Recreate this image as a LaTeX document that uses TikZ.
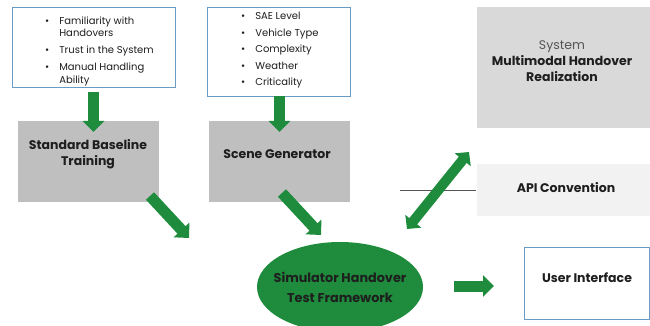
\documentclass[tikz,border=0pt]{standalone}
\usepackage{fontspec}
\setmainfont{Poppins}
\usetikzlibrary{arrows.meta,shapes.geometric}
\definecolor{grn}{HTML}{1E8C3C}
\definecolor{bord}{HTML}{6A9BC3}
\definecolor{txt}{HTML}{1E1E1E}
\definecolor{boxgray}{HTML}{BFBFBF}
\definecolor{sysgray}{HTML}{D9D9D9}
\definecolor{apigray}{HTML}{F2F2F2}
\definecolor{linegray}{HTML}{555555}
\begin{document}
\begin{tikzpicture}[x=1pt,y=-1pt,
  outlinebox/.style={draw=bord, line width=0.9pt, fill=white, inner sep=0, anchor=north west},
  fillbox/.style={draw=none, inner sep=0, anchor=north west},
  boldlabel/.style={font=\fontsize{12.5}{15.5}\selectfont\bfseries, text=txt, align=center, inner sep=0},
  listtext/.style={font=\fontsize{10}{12.5}\selectfont, text=txt, anchor=north west, inner sep=0},
  blockarrow/.style={draw=grn, line width=11pt, -{Triangle[width=21pt,length=11pt]}},
  twoway/.style={draw=grn, line width=10pt, {Triangle[width=20pt,length=10pt]}-{Triangle[width=20pt,length=10pt]}}
]
\clip (0,0) rectangle (650,326);
\fill[white] (0,0) rectangle (650,326);

% top-left list box
\node[outlinebox, minimum width=163, minimum height=80] (hum) at (12,7) {};
\node[listtext] (humlist) at (45,15.5) {\begin{tabular}{@{}l@{\hspace{10pt}}l@{}}
\textbullet & Familiarity with\\ & Handovers\\[4.5pt]
\textbullet & Trust in the System\\[4.5pt]
\textbullet & Manual Handling\\ & Ability\end{tabular}};

% top-middle list box
\node[outlinebox, minimum width=143, minimum height=89] (scn) at (207,7) {};
\node[listtext, font=\fontsize{10}{16.5}\selectfont] (scnlist) at (241,8) {\begin{tabular}{@{}l@{\hspace{10pt}}l@{}}
\textbullet & SAE Level\\
\textbullet & Vehicle Type\\
\textbullet & Complexity\\
\textbullet & Weather\\
\textbullet & Criticality\end{tabular}};

% gray boxes
\node[fillbox, fill=boxgray, minimum width=141, minimum height=81] (sbt) at (18,121) {};
\node[boldlabel] (sbtt) at (88,154) {Standard Baseline\\Training};
\node[fillbox, fill=boxgray, minimum width=141, minimum height=81] (sg) at (209,121) {};
\node[boldlabel] (sgt) at (277,154) {Scene Generator};

% right column
\node[fillbox, fill=sysgray, minimum width=175, minimum height=121] (sys) at (477,7) {};
\node[boldlabel, font=\fontsize{12.5}{16}\selectfont\bfseries] (syst) at (562,61) {{\mdseries\color{linegray}System}\\Multimodal Handover\\Realization};
\node[fillbox, fill=apigray, minimum width=175, minimum height=52] (api) at (477,164) {};
\node[boldlabel] (apit) at (566,188) {API Convention};
\node[outlinebox, minimum width=125, minimum height=72] (ui) at (524,247) {};
\node[boldlabel] (uit) at (587,278) {User Interface};

% ellipse
\node[ellipse, fill=grn, minimum width=166, minimum height=90, inner sep=0] (sim) at (340,287) {};
\node[boldlabel, font=\fontsize{12.8}{20}\selectfont\bfseries] (simt) at (340,287) {Simulator Handover\\Test Framework};

% connector line
\coordinate (l1) at (400,190.5);
\coordinate (l2) at (476,190.5);
\draw[linegray, line width=1pt] (l1) -- (l2);

% arrows
\coordinate (a1s) at (93.5,92);
\coordinate (a1e) at (93.5,132);
\coordinate (a2s) at (279.5,96);
\coordinate (a2e) at (279.5,132);
\coordinate (a3s) at (150,196);
\coordinate (a3e) at (189,238);
\coordinate (a4s) at (282,193);
\coordinate (a4e) at (321,235);
\coordinate (a5s) at (407,229);
\coordinate (a5e) at (469,152);
\coordinate (a6s) at (454,286);
\coordinate (a6e) at (494,286);
\draw[blockarrow] (a1s) -- (a1e);
\draw[blockarrow] (a2s) -- (a2e);
\draw[blockarrow] (a3s) -- (a3e);
\draw[blockarrow] (a4s) -- (a4e);
\draw[twoway] (a5s) -- (a5e);
\draw[blockarrow] (a6s) -- (a6e);
\end{tikzpicture}
\end{document}
